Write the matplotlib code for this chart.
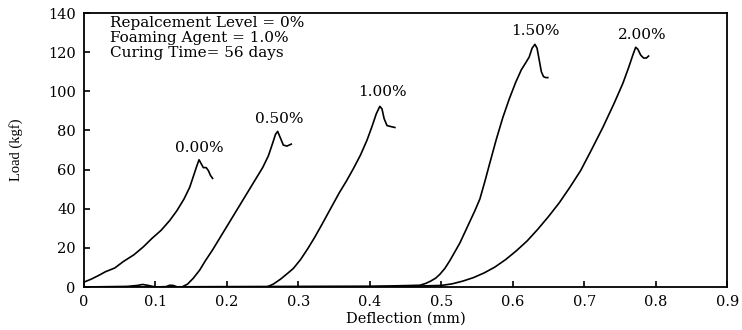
import matplotlib.pyplot as plt

plt.rcParams['font.family'] = ['DejaVu Serif']

# --- data (deflection mm, load kgf) ---
x_000 = [0.0, 0.01, 0.02, 0.03, 0.043, 0.055, 0.07, 0.083, 0.095, 0.108, 0.12, 0.13, 0.14, 0.148, 0.153, 0.158, 0.161, 0.164, 0.167, 0.171, 0.174, 0.177, 0.18]
y_000 = [2.5, 4.0, 5.8, 7.8, 9.7, 13.0, 16.5, 20.5, 24.8, 29.0, 34.0, 39.0, 45.0, 51.0, 56.5, 62.0, 65.0, 63.0, 61.0, 61.0, 59.5, 57.0, 55.5]

x_050 = [0.0, 0.06, 0.075, 0.082, 0.09, 0.10, 0.115, 0.12, 0.125, 0.13, 0.137, 0.145, 0.153, 0.162, 0.17, 0.18, 0.19, 0.20, 0.21, 0.22, 0.23, 0.24, 0.25, 0.258, 0.264, 0.268, 0.271, 0.275, 0.279, 0.284, 0.29]
y_050 = [0.0, 0.3, 0.8, 1.3, 0.8, 0.0, 0.2, 0.9, 0.8, 0.1, 0.0, 1.5, 4.5, 8.7, 13.5, 19.0, 25.0, 31.0, 37.0, 43.0, 49.0, 55.0, 61.0, 67.0, 73.5, 78.0, 79.5, 76.0, 72.5, 72.0, 73.0]

x_100 = [0.0, 0.256, 0.265, 0.275, 0.285, 0.293, 0.303, 0.313, 0.323, 0.333, 0.345, 0.357, 0.367, 0.377, 0.387, 0.396, 0.403, 0.409, 0.414, 0.417, 0.42, 0.424, 0.429, 0.435]
y_100 = [0.0, 0.0, 1.5, 4.0, 7.0, 9.5, 14.0, 19.5, 25.5, 32.0, 40.0, 48.0, 54.0, 60.5, 67.5, 75.0, 82.0, 88.5, 92.3, 91.0, 86.0, 82.5, 82.0, 81.5]

x_150 = [0.0, 0.40, 0.46, 0.47, 0.478, 0.485, 0.492, 0.498, 0.505, 0.512, 0.519, 0.526, 0.533, 0.54, 0.547, 0.554, 0.561, 0.568, 0.577, 0.586, 0.595, 0.604, 0.612, 0.618, 0.623, 0.627, 0.631, 0.634, 0.637, 0.64, 0.643, 0.646, 0.649]
y_150 = [0.0, 0.3, 0.8, 0.9, 1.8, 3.0, 4.5, 6.5, 9.5, 13.5, 18.0, 22.5, 28.0, 33.5, 39.0, 45.0, 54.0, 63.5, 75.5, 86.5, 96.0, 104.5, 111.0, 114.5, 117.5, 122.0, 124.0, 122.0, 116.0, 110.0, 107.5, 107.0, 107.0]

x_200 = [0.0, 0.45, 0.50, 0.515, 0.53, 0.545, 0.56, 0.575, 0.59, 0.605, 0.62, 0.635, 0.65, 0.665, 0.68, 0.695, 0.71, 0.726, 0.742, 0.754, 0.762, 0.768, 0.772, 0.775, 0.779, 0.783, 0.787, 0.79]
y_200 = [0.0, 0.3, 0.8, 1.6, 3.0, 4.8, 7.2, 10.2, 14.0, 18.5, 23.5, 29.5, 36.0, 43.0, 51.0, 59.5, 70.0, 81.5, 94.0, 104.0, 112.0, 118.5, 122.5, 121.5, 118.5, 117.0, 117.0, 118.0]

curve_labels = ['0.00%', '0.50%', '1.00%', '1.50%', '2.00%']
label_pos = [(0.162, 71.0), (0.273, 86.0), (0.417, 99.5), (0.632, 131.0), (0.781, 129.0)]

fig = plt.figure(figsize=(7.42, 3.30), dpi=100)
ax = fig.add_axes([0.1132, 0.1303, 0.8668, 0.8303])

for xs, ys in [(x_000, y_000), (x_050, y_050), (x_100, y_100), (x_150, y_150), (x_200, y_200)]:
    ax.plot(xs, ys, color='black', lw=1.2)

for lab, (lx, ly) in zip(curve_labels, label_pos):
    ax.text(lx, ly, lab, ha='center', va='center', fontsize=11)

ax.text(0.037, 138.5, 'Repalcement Level = 0%\nFoaming Agent = 1.0%\nCuring Time= 56 days',
        ha='left', va='top', fontsize=11, linespacing=1.08)

ax.set_xlim(0, 0.9)
ax.set_ylim(0, 140)
ax.set_xticks([0, 0.1, 0.2, 0.3, 0.4, 0.5, 0.6, 0.7, 0.8, 0.9])
ax.set_xticklabels(['0', '0.1', '0.2', '0.3', '0.4', '0.5', '0.6', '0.7', '0.8', '0.9'])
ax.set_yticks(range(0, 141, 20))
ax.tick_params(direction='in', length=4, width=1.2, labelsize=10.5, pad=6)
for s in ax.spines.values():
    s.set_linewidth(1.3)

ax.set_xlabel('Deflection (mm)', fontsize=10.5, labelpad=2)
ax.set_ylabel('Load (kgf)', fontsize=10.5, family=['Liberation Serif'], labelpad=18)

fig.savefig('out.png', dpi=100)
